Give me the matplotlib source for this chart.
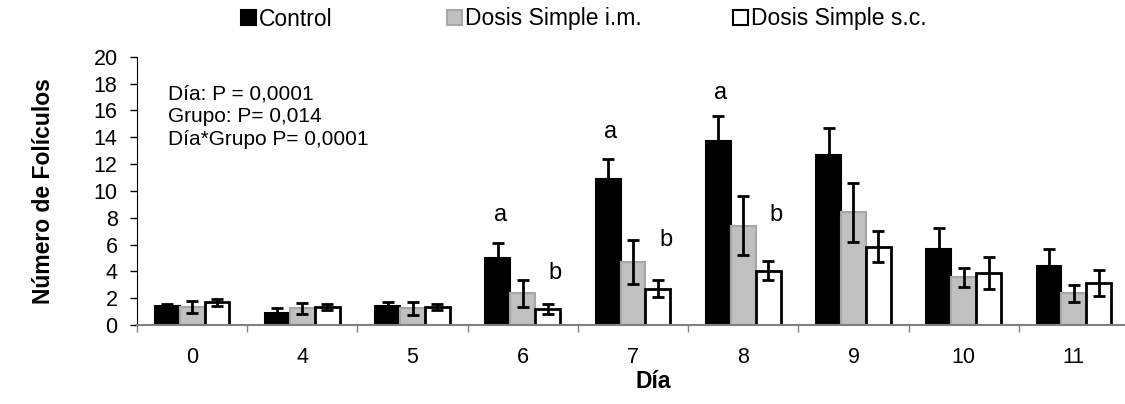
import matplotlib.pyplot as plt
from matplotlib.patches import Patch
import numpy as np

plt.rcParams['font.family'] = ['Liberation Sans', 'DejaVu Sans']

dias = ['0', '4', '5', '6', '7', '8', '9', '10', '11']

control = [1.4, 0.9, 1.4, 5.0, 10.85, 13.7, 12.7, 5.7, 4.4]
control_err = [0.2, 0.35, 0.3, 1.1, 1.5, 1.9, 2.0, 1.55, 1.25]

im = [1.35, 1.25, 1.25, 2.35, 4.7, 7.4, 8.4, 3.55, 2.35]
im_err = [0.45, 0.42, 0.47, 1.0, 1.65, 2.2, 2.2, 0.72, 0.62]

sc = [1.7, 1.35, 1.35, 1.2, 2.7, 4.05, 5.85, 3.85, 3.15]
sc_err = [0.27, 0.25, 0.25, 0.4, 0.62, 0.72, 1.18, 1.2, 0.97]

# letras de significancia: (grupo, serie, y, texto)
letras = [(3, 0, 8.2, 'a'), (3, 2, 3.9, 'b'),
          (4, 0, 14.35, 'a'), (4, 2, 6.3, 'b'),
          (5, 0, 17.3, 'a'), (5, 2, 8.2, 'b')]

fig = plt.figure(figsize=(11.25, 4.04), dpi=100)
ax = fig.add_axes([137 / 1125, 1 - 325 / 404, 992 / 1125, (325 - 56.7) / 404])

x = np.arange(len(dias))
w = 0.226
ekw = dict(ecolor='black', elinewidth=2, capsize=4.5, capthick=2)

ax.bar(x - w, control, w, color='black', edgecolor='black', linewidth=1.5,
       yerr=[[0] * len(control), control_err], error_kw=ekw, zorder=2)
ax.bar(x, im, w, color='#c0c0c0', edgecolor='#a6a6a6', linewidth=1.5,
       yerr=im_err, error_kw=ekw, zorder=2)
ax.bar(x + w, sc, w, color='white', edgecolor='black', linewidth=2,
       yerr=sc_err, error_kw=ekw, zorder=2)

offs = [-w, 0, w]
for g, s, y, t in letras:
    dx = 0.07 if t == 'b' else 0.02
    ax.text(x[g] + offs[s] + dx, y, t, fontsize=17, ha='center', va='center')

ax.text(-0.22, 17.95, 'Día: P = 0,0001\nGrupo: P= 0,014\nDía*Grupo P= 0,0001',
        fontsize=15, va='top', ha='left', linespacing=1.25)

ax.set_xlim(-0.5, 8.5)
ax.set_ylim(0, 20)
ax.set_yticks(range(0, 21, 2))
ax.set_xticks(x)
ax.set_xticklabels(dias)
ax.set_xticks(np.arange(-0.5, 9, 1), minor=True)
ax.tick_params(axis='x', which='major', length=0, labelsize=15.5, pad=16)
ax.tick_params(axis='x', which='minor', length=5, color='#808080', width=1)
ax.tick_params(axis='y', length=5, width=1, labelsize=15.5, pad=9)

for s in ['top', 'right']:
    ax.spines[s].set_visible(False)
ax.spines['bottom'].set_color('#808080')
ax.spines['bottom'].set_linewidth(1.5)
ax.spines['left'].set_color('black')

ax.set_ylabel('Número de Folículos', fontsize=16.5, fontweight='bold')
ax.set_xlabel('Día', fontsize=16.5, fontweight='bold')
ax.yaxis.set_label_coords(-82 / 992, 0.5)
ax.xaxis.set_label_coords(0.52, -45 / (325 - 56.7))

entradas = [('Control', 'black', 'black', 241),
            ('Dosis Simple i.m.', '#c0c0c0', '#a6a6a6', 447),
            ('Dosis Simple s.c.', 'white', 'black', 733)]
for nombre, fc, ec, px in entradas:
    h = Patch(facecolor=fc, edgecolor=ec, linewidth=1.5)
    fig.legend([h], [nombre], loc='center left', bbox_to_anchor=(px / 1125, 1 - 19 / 404),
               frameon=False, fontsize=16.5, handlelength=0.65, handleheight=0.65,
               handletextpad=0.15, borderaxespad=0, borderpad=0)

fig.savefig('out.png', dpi=100)
